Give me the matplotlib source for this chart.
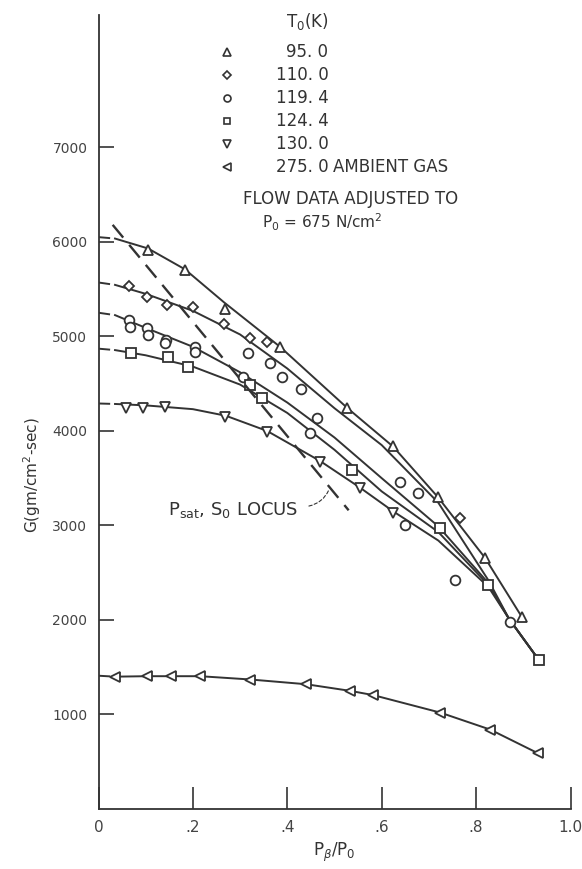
import numpy as np
import matplotlib.pyplot as plt

# faired curves (x = P_beta/P_0, G in gm/cm^2-sec)
x_95 = [0.0, 0.035, 0.105, 0.183, 0.266, 0.385, 0.527, 0.624, 0.719, 0.819, 0.897]
g_95 = [6050, 6035, 5930, 5710, 5360, 4888, 4243, 3835, 3300, 2656, 2031]

x_110 = [0.0, 0.035, 0.1, 0.2, 0.3, 0.4, 0.5, 0.6, 0.72, 0.826, 0.87, 0.933]
g_110 = [5570, 5545, 5450, 5270, 5020, 4660, 4240, 3850, 3240, 2420, 2010, 1576]

x_119 = [0.0, 0.035, 0.1, 0.2, 0.3, 0.4, 0.5, 0.6, 0.72, 0.826, 0.87, 0.933]
g_119 = [5250, 5225, 5090, 4890, 4620, 4300, 3930, 3500, 2990, 2390, 2010, 1576]

x_124 = [0.0, 0.035, 0.1, 0.2, 0.3, 0.4, 0.5, 0.6, 0.72, 0.826, 0.87, 0.933]
g_124 = [4870, 4855, 4800, 4680, 4490, 4190, 3800, 3360, 2930, 2370, 2010, 1576]

x_130 = [0.0, 0.035, 0.1, 0.2, 0.27, 0.357, 0.47, 0.554, 0.624, 0.72, 0.826, 0.87, 0.933]
g_130 = [4290, 4285, 4270, 4230, 4160, 4000, 3680, 3400, 3150, 2840, 2350, 2010, 1576]

x_275 = [0.0, 0.035, 0.102, 0.154, 0.215, 0.322, 0.44, 0.533, 0.582, 0.724, 0.83, 0.931]
g_275 = [1410, 1400, 1405, 1405, 1405, 1370, 1320, 1250, 1205, 1020, 840, 590]

# data points
pts_95_x = [0.105, 0.183, 0.268, 0.385, 0.527, 0.624, 0.719, 0.819, 0.897]
pts_95_g = [5914, 5703, 5290, 4888, 4243, 3841, 3301, 2656, 2031]

pts_110_x = [0.065, 0.103, 0.145, 0.2, 0.266, 0.321, 0.357, 0.766]
pts_110_g = [5533, 5417, 5332, 5311, 5131, 4983, 4941, 3078]

pts_119_x = [0.065, 0.067, 0.103, 0.105, 0.143, 0.141, 0.204, 0.204, 0.317, 0.363,
             0.389, 0.429, 0.306, 0.448, 0.463, 0.639, 0.677, 0.65, 0.755, 0.872]
pts_119_g = [5174, 5100, 5089, 5015, 4962, 4930, 4888, 4835, 4825, 4719,
             4570, 4444, 4570, 3978, 4137, 3460, 3343, 3005, 2423, 1978]

pts_124_x = [0.069, 0.147, 0.19, 0.321, 0.346, 0.537, 0.723, 0.826, 0.933]
pts_124_g = [4825, 4782, 4677, 4486, 4349, 3587, 2973, 2370, 1576]

pts_130_x = [0.058, 0.094, 0.141, 0.268, 0.357, 0.47, 0.554, 0.624]
pts_130_g = [4240, 4240, 4255, 4150, 3990, 3671, 3396, 3130]

pts_275_x = x_275[1:]
pts_275_g = [1400, 1407, 1407, 1407, 1365, 1319, 1248, 1206, 1019, 836, 589]

# saturation locus
locus_x = [0.03, 0.53]
locus_g = [6180, 3160]

temps = ['95. 0', '110. 0', '119. 4', '124. 4', '130. 0', '275. 0']
markers = ['^', 'D', 'o', 's', 'v', '<']
msizes = [7.5, 5.5, 7, 7, 7.5, 7.5]
key_sizes = [5.5, 4, 5, 5, 5.5, 5.5]

ink = '#333333'

fig = plt.figure(figsize=(5.82, 8.69), dpi=100)
ax = fig.add_axes([98.5 / 582, 60 / 869, 472 / 582, 794 / 869])

curves = [(x_95, g_95), (x_110, g_110), (x_119, g_119),
          (x_124, g_124), (x_130, g_130), (x_275, g_275)]
points = [(pts_95_x, pts_95_g), (pts_110_x, pts_110_g), (pts_119_x, pts_119_g),
          (pts_124_x, pts_124_g), (pts_130_x, pts_130_g), (pts_275_x, pts_275_g)]

for (cx, cg) in curves:
    ax.plot(cx[:2], cg[:2], color=ink, lw=1.4, ls=(0, (6, 4)))
    ax.plot(cx[1:], cg[1:], color=ink, lw=1.4)

for (px, pg), m, ms in zip(points, markers, msizes):
    ax.plot(px, pg, ls='none', marker=m, ms=ms, mfc='white', mec=ink, mew=1.3)

ax.plot(locus_x, locus_g, color=ink, lw=1.7, ls=(0, (7, 4)))

ax.text(0.147, 3110, r'P$_{\mathrm{sat}}$, S$_0$ LOCUS', fontsize=13,
        color=ink, va='baseline')
ax.annotate('', xy=(0.49, 3400), xytext=(0.44, 3200),
            arrowprops=dict(arrowstyle='-', ls=(0, (3, 2)), lw=0.8, color=ink,
                            connectionstyle='arc3,rad=0.3'))

# key
ax.text(0.442, 8330, r'T$_0$(K)', fontsize=12, color=ink, ha='center', va='center')
for i, (t, m, ks) in enumerate(zip(temps, markers, key_sizes)):
    yk = 8010 - i * 243
    ax.plot([0.272], [yk], ls='none', marker=m, ms=ks, mfc='white', mec=ink, mew=1.2)
    ax.text(0.487, yk, t, fontsize=12, color=ink, ha='right', va='center')
ax.text(0.497, 8010 - 5 * 243, 'AMBIENT GAS', fontsize=12, color=ink, va='center')
ax.text(0.306, 6455, 'FLOW DATA ADJUSTED TO', fontsize=12, color=ink, va='center')
ax.text(0.346, 6210, r'P$_0$ = 675 N/cm$^2$', fontsize=11, color=ink, va='center')

ax.set_xlim(0, 1.0)
ax.set_ylim(0, 8400)
ax.spines['top'].set_visible(False)
ax.spines['right'].set_visible(False)
for s in ['left', 'bottom']:
    ax.spines[s].set_color(ink)
    ax.spines[s].set_linewidth(1.3)

ax.set_xticks([0, 0.2, 0.4, 0.6, 0.8, 1.0])
ax.set_xticklabels(['0', '.2', '.4', '.6', '.8', '1.0'])
ax.set_yticks([1000, 2000, 3000, 4000, 5000, 6000, 7000])
ax.tick_params(axis='x', direction='in', length=16, width=1.2, color=ink,
               labelsize=11, labelcolor='#444444', pad=8)
ax.tick_params(axis='y', direction='in', length=11, width=1.2, color=ink,
               labelsize=10, labelcolor='#444444', pad=8)

ax.set_xlabel(r'P$_\beta$/P$_0$', fontsize=12, color=ink, labelpad=4)
fig.text(32 / 582, 1 - 475 / 869, r'G(gm/cm$^2$-sec)', rotation=90, fontsize=11,
         color=ink, ha='center', va='center')

fig.savefig('out.png', dpi=100)
